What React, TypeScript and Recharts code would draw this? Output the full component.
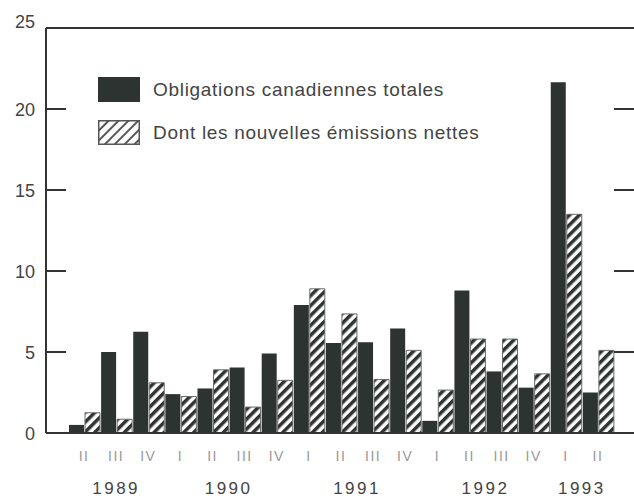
import { BarChart, Bar, XAxis, YAxis, ReferenceLine } from "recharts";

// Quarterly data, 1989 II -> 1993 II
const quarters = ["II", "III", "IV", "I", "II", "III", "IV", "I", "II", "III", "IV", "I", "II", "III", "IV", "I", "II"];
const years = [1989, 1989, 1989, 1990, 1990, 1990, 1990, 1991, 1991, 1991, 1991, 1992, 1992, 1992, 1992, 1993, 1993];
const totalBonds = [0.5, 5.0, 6.25, 2.4, 2.75, 4.05, 4.9, 7.9, 5.55, 5.6, 6.45, 0.75, 8.8, 3.8, 2.8, 21.65, 2.5];
const netIssues = [1.25, 0.85, 3.1, 2.25, 3.9, 1.6, 3.25, 8.9, 7.35, 3.3, 5.1, 2.65, 5.8, 5.8, 3.65, 13.5, 5.1];
const yTicks = [0, 5, 10, 15, 20, 25];

const seriesNames = {
  total: "Obligations canadiennes totales",
  net: "Dont les nouvelles émissions nettes",
};

const W = 634;
const H = 498;
const PLOT_LEFT = 46;
const PLOT_RIGHT = 634;
const PAD_LEFT = 22;
const PAD_RIGHT = 20;
const BAND = (PLOT_RIGHT - PLOT_LEFT - PAD_LEFT - PAD_RIGHT) / quarters.length;

const DARK = "#2d3330";
const FONT = "'Liberation Sans', Arial, sans-serif";

const data = quarters.map((q, i) => ({
  key: `${years[i]} ${q}`,
  quarter: q,
  year: years[i],
  total: totalBonds[i],
  net: netIssues[i],
}));

// where to put each year label: middle of its quarters
const yearCenter: Record<number, number> = {};
for (const y of Array.from(new Set(years))) {
  const idx = years.map((v, i) => (v === y ? i : -1)).filter((i) => i >= 0);
  yearCenter[y] = (idx[0] + idx[idx.length - 1]) / 2;
}

function XTick(props: any) {
  const { x, y, index } = props;
  const d = data[index];
  if (!d) return null;
  const c = yearCenter[d.year];
  const showYear = index === Math.floor(c);
  const yearX = x + (c - Math.floor(c)) * BAND;
  return (
    <g>
      <text x={x} y={y + 26} textAnchor="middle" fontSize={14} letterSpacing={1.5} fill="#999" fontFamily={FONT}>
        {d.quarter}
      </text>
      {showYear && (
        <text x={yearX} y={y + 59} textAnchor="middle" fontSize={17} letterSpacing={2.5} fill="#444" fontFamily={FONT}>
          {d.year}
        </text>
      )}
    </g>
  );
}

function YTick(props: any) {
  const { x, y, payload } = props;
  const v = payload.value;
  const inner = v !== 0 && v !== 25;
  return (
    <g>
      <text x={x} y={y} dy={v === 25 ? 0 : 7} textAnchor="end" fontSize={18} fill="#444" fontFamily={FONT}>
        {v}
      </text>
      {inner && <line x1={PLOT_LEFT} x2={PLOT_LEFT + 20} y1={y} y2={y} stroke="#333" strokeWidth={2} />}
      {inner && <line x1={PLOT_RIGHT - 20} x2={PLOT_RIGHT} y1={y} y2={y} stroke="#333" strokeWidth={2} />}
    </g>
  );
}

function LegendBox() {
  return (
    <div style={{ position: "absolute", left: 98, top: 77, fontFamily: FONT, fontSize: 19, letterSpacing: 0.7, color: "#444" }}>
      <div style={{ display: "flex", alignItems: "center", height: 25, marginBottom: 18, whiteSpace: "nowrap" }}>
        <svg width={42} height={25}>
          <rect x={0} y={0} width={42} height={25} fill={DARK} />
        </svg>
        <span style={{ marginLeft: 13 }}>{seriesNames.total}</span>
      </div>
      <div style={{ display: "flex", alignItems: "center", height: 25, whiteSpace: "nowrap" }}>
        <svg width={42} height={25}>
          <defs>
            <pattern id="hatchLegend" patternUnits="userSpaceOnUse" width={7} height={7} patternTransform="rotate(45)">
              <rect width={7} height={7} fill="#fff" />
              <rect width={2} height={7} fill="#555" />
            </pattern>
          </defs>
          <rect x={0.75} y={0.75} width={40.5} height={23.5} fill="url(#hatchLegend)" stroke="#555" strokeWidth={1.5} />
        </svg>
        <span style={{ marginLeft: 13 }}>{seriesNames.net}</span>
      </div>
    </div>
  );
}

export default function App() {
  return (
    <div style={{ position: "absolute", left: 0, top: 0, width: W, height: H, background: "#fff" }}>
      <BarChart
        width={W}
        height={H}
        data={data}
        margin={{ top: 28, right: 0, left: 0, bottom: 5 }}
        barCategoryGap={1}
        barGap={1}
      >
        <defs>
          <pattern id="hatch" patternUnits="userSpaceOnUse" width={7} height={7} patternTransform="rotate(45)">
            <rect width={7} height={7} fill="#fff" />
            <rect width={3.5} height={7} fill={DARK} />
          </pattern>
        </defs>
        <XAxis
          dataKey="key"
          interval={0}
          height={60}
          padding={{ left: PAD_LEFT, right: PAD_RIGHT }}
          tickLine={false}
          tickSize={0}
          tick={<XTick />}
          axisLine={{ stroke: "#333", strokeWidth: 2 }}
        />
        <YAxis
          domain={[0, 25]}
          ticks={yTicks}
          width={PLOT_LEFT}
          tickLine={false}
          tickSize={0}
          tickMargin={11}
          tick={<YTick />}
          axisLine={{ stroke: "#333", strokeWidth: 2 }}
        />
        <ReferenceLine y={25} stroke="#333" strokeWidth={2} />
        <Bar dataKey="total" name={seriesNames.total} fill={DARK} isAnimationActive={false} />
        <Bar dataKey="net" name={seriesNames.net} fill="url(#hatch)" stroke="#6a6a6a" strokeWidth={1} isAnimationActive={false} />
      </BarChart>
      <LegendBox />
    </div>
  );
}
